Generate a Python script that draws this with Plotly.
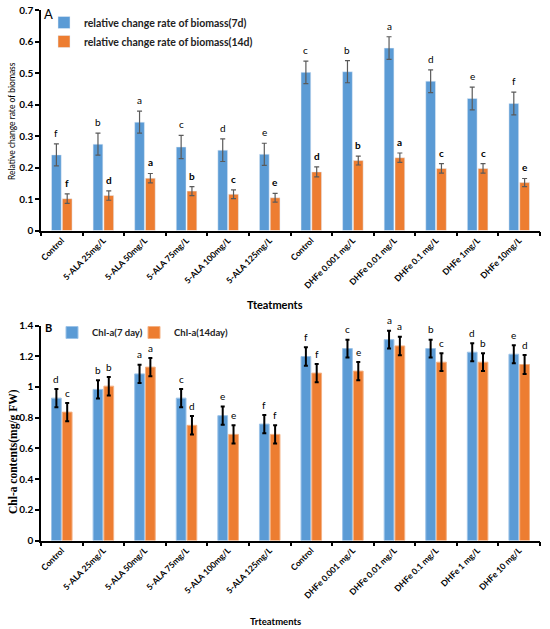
import plotly.graph_objects as go

# treatments (two "Control" groups, so positions are numeric and labels come from ticktext)
treat_a = ['Control', '5-ALA 25mg/L', '5-ALA 50mg/L', '5-ALA 75mg/L', '5-ALA 100mg/L', '5-ALA 125mg/L',
           'Control', 'DHFe 0.001 mg/L', 'DHFe 0.01 mg/L', 'DHFe 0.1 mg/L', 'DHFe 1mg/L', 'DHFe 10mg/L']
treat_b = ['Control', '5-ALA 25mg/L', '5-ALA 50mg/L', '5-ALA 75mg/L', '5-ALA 100mg/L', '5-ALA 125mg/L',
           'Control', 'DHFe 0.001 mg/L', 'DHFe 0.01 mg/L', 'DHFe 0.1 mg/L', 'DHFe 1 mg/L', 'DHFe 10 mg/L']
x_pos = list(range(12))

# panel A - relative change rate of biomass
bio_7d = [0.240, 0.274, 0.344, 0.265, 0.255, 0.242, 0.502, 0.504, 0.579, 0.474, 0.419, 0.403]
bio_7d_err = [0.035, 0.035, 0.035, 0.037, 0.036, 0.035, 0.036, 0.035, 0.036, 0.036, 0.036, 0.036]
bio_14d = [0.101, 0.111, 0.166, 0.125, 0.115, 0.104, 0.186, 0.222, 0.231, 0.197, 0.197, 0.152]
bio_14d_err = [0.015, 0.015, 0.015, 0.014, 0.014, 0.014, 0.016, 0.014, 0.015, 0.015, 0.015, 0.013]
let_a7 = ['f', 'b', 'a', 'c', 'd', 'e', 'c', 'b', 'a', 'd', 'e', 'f']
let_a14 = ['f', 'd', 'a', 'b', 'c', 'e', 'd', 'b', 'a', 'c', 'c', 'e']

# panel B - Chl-a contents
chl_7 = [0.927, 0.984, 1.085, 0.927, 0.813, 0.758, 1.198, 1.250, 1.308, 1.250, 1.226, 1.213]
chl_7_err = [0.06, 0.06, 0.06, 0.06, 0.06, 0.06, 0.06, 0.058, 0.058, 0.058, 0.058, 0.058]
chl_14 = [0.836, 1.005, 1.129, 0.750, 0.691, 0.691, 1.090, 1.103, 1.267, 1.161, 1.161, 1.146]
chl_14_err = [0.06, 0.06, 0.06, 0.06, 0.06, 0.06, 0.06, 0.06, 0.06, 0.058, 0.058, 0.062]
let_b7 = ['d', 'b', 'a', 'c', 'e', 'f', 'f', 'c', 'a', 'b', 'd', 'e']
let_b14 = ['c', 'b', 'a', 'd', 'e', 'f', 'f', 'e', 'a', 'c', 'b', 'd']

BLUE = '#5B9BD5'
ORANGE = '#ED7D31'
W, H = 550, 629

def px(x):
    return x / W

def py(y):
    return 1 - y / H

fig = go.Figure()
fig.add_trace(go.Bar(x=x_pos, y=bio_7d, name='relative change rate of biomass(7d)', marker_color=BLUE,
                     error_y=dict(type='data', array=bio_7d_err, color='#5a5a5a', thickness=1.2, width=2.5),
                     xaxis='x', yaxis='y', legend='legend'))
fig.add_trace(go.Bar(x=x_pos, y=bio_14d, name='relative change rate of biomass(14d)', marker_color=ORANGE,
                     error_y=dict(type='data', array=bio_14d_err, color='#5a5a5a', thickness=1.2, width=2.5),
                     xaxis='x', yaxis='y', legend='legend'))
fig.add_trace(go.Bar(x=x_pos, y=chl_7, name='Chl-a(7 day)', marker_color=BLUE,
                     marker_line=dict(color='#9cc3e8', width=1),
                     error_y=dict(type='data', array=chl_7_err, color='black', thickness=2, width=2),
                     xaxis='x2', yaxis='y2', legend='legend2'))
fig.add_trace(go.Bar(x=x_pos, y=chl_14, name='Chl-a(14day)', marker_color=ORANGE,
                     marker_line=dict(color='#f4b183', width=1),
                     error_y=dict(type='data', array=chl_14_err, color='black', thickness=2, width=2),
                     xaxis='x2', yaxis='y2', legend='legend3'))

off = 0.13
ann = []
for i in x_pos:
    ann.append(dict(x=i - off, y=bio_7d[i] + bio_7d_err[i] + 0.01, xref='x', yref='y', text=let_a7[i],
                    showarrow=False, yanchor='bottom', font=dict(size=10, color='black', family='Lato')))
    ann.append(dict(x=i + off, y=bio_14d[i] + bio_14d_err[i] + 0.01, xref='x', yref='y', text='<b>' + let_a14[i] + '</b>',
                    showarrow=False, yanchor='bottom', font=dict(size=10, color='black', family='Lato')))
    ann.append(dict(x=i - off, y=chl_7[i] + chl_7_err[i] + 0.015, xref='x2', yref='y2', text=let_b7[i],
                    showarrow=False, yanchor='bottom', font=dict(size=10, color='black', family='Lato')))
    ann.append(dict(x=i + off, y=chl_14[i] + chl_14_err[i] + 0.015, xref='x2', yref='y2', text=let_b14[i],
                    showarrow=False, yanchor='bottom', font=dict(size=10, color='black', family='Lato')))

# panel letters and axis titles (pixel positions converted to paper)
def label(x, y, text, size, family='Lato', angle=0):
    return dict(x=px(x), y=py(y), xref='paper', yref='paper', text=text, showarrow=False,
                xanchor='center', yanchor='middle', textangle=angle,
                font=dict(size=size, color='black', family=family))

ann += [
    label(48, 14, 'A', 13),
    label(48, 327, '<b>B</b>', 11),
    label(275, 304, '<b>Tteatments</b>', 11),
    label(275, 621, '<b>Trteatments</b>', 9.5),
    label(12, 121, 'Relative change rate of biomass', 8.5, angle=-90),
    label(13, 452, '<b>Chl-a contents(mg/g FW)</b>', 11.5, family='Liberation Serif', angle=-90),
]

xcommon = dict(range=[-0.5, 11.5], tickmode='array', tickvals=x_pos, tickangle=-45, ticks='',
               showline=True, linecolor='black', linewidth=1.5, showgrid=False, zeroline=False,
               automargin=False, tickfont=dict(size=8.5, color='black', family='Lato', weight='bold'),
               minor=dict(tickmode='array', tickvals=[i - 0.5 for i in range(13)], ticks='outside',
                          ticklen=4, tickcolor='black', tickwidth=1.5, showgrid=False))
ycommon = dict(ticks='outside', ticklen=4, tickcolor='black', tickwidth=1.5, showline=True, linecolor='black',
               linewidth=1.5, showgrid=False, zeroline=False, automargin=False,
               tickfont=dict(size=10, color='black', family='Lato', weight='bold'))
legfont = dict(size=9.5, color='#222', family='Lato', weight='bold')

fig.update_layout(
    width=W, height=H, margin=dict(l=0, r=0, t=0, b=0),
    plot_bgcolor='white', paper_bgcolor='white',
    barmode='group', bargap=0.48, bargroupgap=0.1,
    xaxis=dict(domain=[px(41), px(540)], anchor='y', ticktext=treat_a, **xcommon),
    yaxis=dict(domain=[py(230.5), py(10)], anchor='x', range=[0, 0.7], dtick=0.1, **ycommon),
    xaxis2=dict(domain=[px(41), px(540)], anchor='y2', ticktext=treat_b, **xcommon),
    yaxis2=dict(domain=[py(540.5), py(325.5)], anchor='x2', range=[0, 1.4], dtick=0.2, **ycommon),
    legend=dict(x=px(44), y=py(8), xanchor='left', yanchor='top', bgcolor='rgba(0,0,0,0)',
                font=dict(size=10.5, color='#222', family='Lato', weight='bold'), tracegroupgap=0),
    legend2=dict(x=px(52), y=py(318), xanchor='left', yanchor='top', bgcolor='rgba(0,0,0,0)', font=legfont),
    legend3=dict(x=px(134), y=py(318), xanchor='left', yanchor='top', bgcolor='rgba(0,0,0,0)', font=legfont),
    annotations=ann,
)

# the page's default body margin would shift the fixed-size figure
fig.write_html("out.html", config={'displayModeBar': False},
               post_script="document.body.style.margin='0';")
